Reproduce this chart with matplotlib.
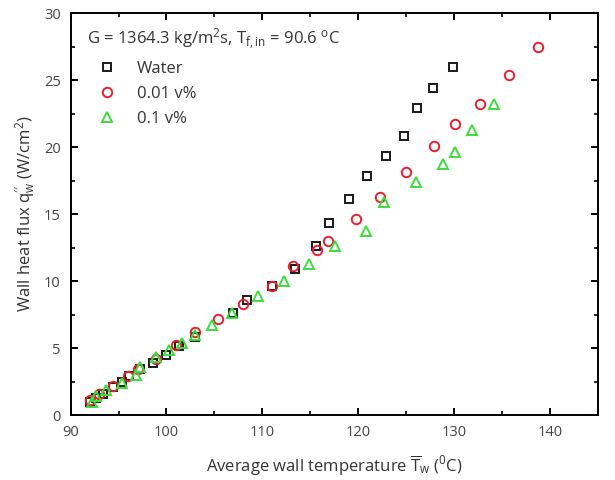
import matplotlib
matplotlib.use("Agg")
import matplotlib.pyplot as plt
from matplotlib.ticker import MultipleLocator
from matplotlib.lines import Line2D

plt.rcParams['font.family'] = ['Open Sans', 'DejaVu Sans']
plt.rcParams['mathtext.fontset'] = 'custom'
plt.rcParams['mathtext.rm'] = 'Open Sans'
plt.rcParams['mathtext.it'] = 'Open Sans'

# Boiling curve data: average wall temperature (degC) vs wall heat flux (W/cm2)
water_T = [92.0, 92.7, 93.4, 94.4, 95.4, 96.1, 97.2, 98.55, 100.0, 101.3, 103.0,
           106.9, 108.4, 111.0, 113.4, 115.55, 117.0, 119.0, 120.9, 122.9,
           124.8, 126.1, 127.8, 129.9]
water_q = [1.0, 1.25, 1.6, 2.1, 2.5, 2.9, 3.4, 3.9, 4.5, 5.15, 5.85,
           7.6, 8.6, 9.6, 10.9, 12.6, 14.3, 16.1, 17.8, 19.3,
           20.8, 22.9, 24.4, 26.0]

nf001_T = [92.0, 93.0, 94.4, 96.0, 97.0, 98.9, 101.0, 103.0, 105.4, 108.0,
           111.0, 113.2, 115.7, 116.9, 119.8, 122.3, 125.0, 127.9, 130.1,
           132.7, 135.7, 138.8]
nf001_q = [1.1, 1.6, 2.2, 2.9, 3.4, 4.2, 5.2, 6.2, 7.2, 8.3,
           9.6, 11.1, 12.3, 13.0, 14.6, 16.3, 18.1, 20.1, 21.7,
           23.2, 25.4, 27.5]

nf01_T = [92.2, 92.7, 93.7, 95.4, 96.8, 97.2, 98.9, 100.3, 101.65, 103.0,
          104.8, 106.8, 109.6, 112.3, 114.9, 117.6, 120.8, 122.7, 126.0,
          128.9, 130.1, 131.9, 134.2]
nf01_q = [1.0, 1.4, 1.9, 2.4, 3.0, 3.6, 4.35, 4.85, 5.35, 6.0,
          6.7, 7.6, 8.85, 10.0, 11.3, 12.6, 13.7, 15.9, 17.4,
          18.7, 19.6, 21.3, 23.2]

labels = ['Water', '0.01 v%', '0.1 v%']
colors = ['#1a1a1a', '#e5202e', '#3ddc3d']
markers = ['s', 'o', '^']
sizes = [6.2, 6.8, 7.6]

fig = plt.figure(figsize=(6.15, 4.8), dpi=100)
ax = fig.add_axes([0.1148, 0.1354, 0.8572, 0.8375])

series = [(water_T, water_q), (nf001_T, nf001_q), (nf01_T, nf01_q)]
for (x, y), c, m, s in zip(series, colors, markers, sizes):
    ax.plot(x, y, linestyle='none', marker=m, markersize=s,
            markerfacecolor='none', markeredgecolor=c, markeredgewidth=1.4)

ax.set_xlim(90, 145)
ax.set_ylim(0, 30)
ax.xaxis.set_major_locator(MultipleLocator(10))
ax.xaxis.set_minor_locator(MultipleLocator(5))
ax.yaxis.set_major_locator(MultipleLocator(5))
ax.yaxis.set_minor_locator(MultipleLocator(2.5))
ax.tick_params(which='both', direction='in', top=True, right=True,
               labelcolor='#444444', labelsize=10.5, pad=7)
ax.tick_params(which='major', length=5, width=1.4)
ax.tick_params(which='minor', length=3, width=1.2)
for sp in ax.spines.values():
    sp.set_linewidth(1.4)

ax.set_xlabel(r'Average wall temperature $\overline{\mathrm{T}}_{\mathrm{w}}$ ($^{\mathrm{0}}$C)',
              fontsize=12, color='#333333', labelpad=10)
ax.set_ylabel(r'Wall heat flux q$_{\mathrm{w}}^{\prime\prime}$ (W/cm$^{\mathrm{2}}$)',
              fontsize=12, color='#333333', labelpad=4)

ax.text(0.031, 0.935,
        r'G = 1364.3 kg/m$^{\mathrm{2}}$s, T$_{\mathrm{f,in}}$ = 90.6 $^{\mathrm{o}}$C',
        transform=ax.transAxes, fontsize=12, color='#333333', va='center')

handles = [Line2D([], [], linestyle='none', marker=m, markersize=s,
                  markerfacecolor='none', markeredgecolor=c, markeredgewidth=1.4)
           for c, m, s in zip(colors, markers, sizes)]
leg = ax.legend(handles, labels, loc='upper left', bbox_to_anchor=(0.022, 0.91),
                frameon=False, fontsize=12, handletextpad=1.0, labelspacing=0.55,
                handlelength=1.6, borderaxespad=0.3)
for t in leg.get_texts():
    t.set_color('#333333')

fig.savefig('out.png', dpi=100)
